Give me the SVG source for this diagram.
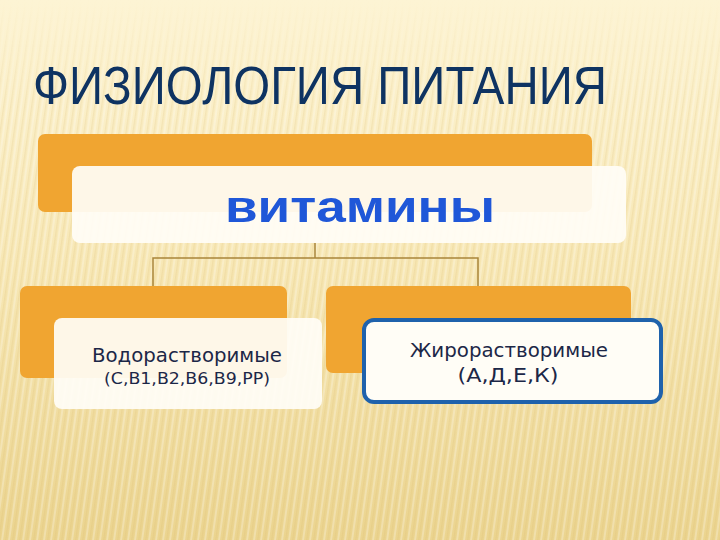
<svg xmlns="http://www.w3.org/2000/svg" width="720" height="540" viewBox="0 0 720 540">
  <defs>
    <linearGradient id="bg" x1="0" y1="0" x2="0" y2="1">
      <stop offset="0" stop-color="#fdf4d4"/>
      <stop offset="0.5" stop-color="#f7e7b4"/>
      <stop offset="1" stop-color="#ebd48f"/>
    </linearGradient>
    <pattern id="stripes" width="7" height="540" patternUnits="userSpaceOnUse" patternTransform="skewX(-8)">
      <rect x="0" y="0" width="2" height="540" fill="#ffffff" opacity="0.25"/>
      <rect x="4" y="0" width="1.5" height="540" fill="#d9b96a" opacity="0.18"/>
    </pattern>
    <linearGradient id="stripeFade" x1="0" y1="0" x2="0" y2="1">
      <stop offset="0" stop-color="#fff" stop-opacity="0"/>
      <stop offset="0.2" stop-color="#fff" stop-opacity="1"/>
      <stop offset="1" stop-color="#fff" stop-opacity="1"/>
    </linearGradient>
    <mask id="fadeMask">
      <rect width="720" height="540" fill="url(#stripeFade)"/>
    </mask>
    <style>
      .orange { fill: #f0a531; }
      .card { fill: #fffdf6; fill-opacity: 0.93; }
      .conn { fill: none; stroke: #a9853a; stroke-width: 1.5; }
      .label { font-family: "DejaVu Sans", "Liberation Sans", sans-serif; fill: #1c2747; text-anchor: middle; }
    </style>
  </defs>

  <rect width="720" height="540" fill="url(#bg)"/>
  <rect width="720" height="540" fill="url(#stripes)" mask="url(#fadeMask)"/>

  <text x="33" y="104" font-family="'Liberation Sans Narrow', 'Liberation Sans', Arial, sans-serif" font-size="53" fill="#0e3362" textLength="574" lengthAdjust="spacingAndGlyphs">ФИЗИОЛОГИЯ ПИТАНИЯ</text>

  <g id="connectors">
    <path class="conn" d="M315 243 V258 M153 286 V258 H478 V286"/>
  </g>

  <g id="node-vitamins">
    <rect class="orange" x="38" y="134" width="554" height="78" rx="7"/>
    <rect class="card" x="72" y="166" width="554" height="77" rx="8"/>
    <text x="360" y="222" font-family="'Liberation Sans', Arial, sans-serif" font-weight="bold" font-size="44" fill="#1f57d8" text-anchor="middle" textLength="270" lengthAdjust="spacingAndGlyphs">витамины</text>
  </g>

  <g id="node-water">
    <rect class="orange" x="20" y="286" width="267" height="92" rx="7"/>
    <rect class="card" x="54" y="318" width="268" height="91" rx="8"/>
    <text class="label" x="187" y="362" font-size="19" textLength="190" lengthAdjust="spacingAndGlyphs">Водорастворимые</text>
    <text class="label" x="187" y="384" font-size="16" textLength="166" lengthAdjust="spacingAndGlyphs">(С,В1,В2,В6,В9,РР)</text>
  </g>

  <g id="node-fat">
    <rect class="orange" x="326" y="286" width="305" height="87" rx="7"/>
    <rect x="364" y="320" width="297" height="82" rx="10" fill="#fffdf6" stroke="#1f62ac" stroke-width="4"/>
    <text class="label" x="509" y="357" font-size="19" textLength="198" lengthAdjust="spacingAndGlyphs">Жирорастворимые</text>
    <text class="label" x="508" y="382" font-size="19" textLength="101" lengthAdjust="spacingAndGlyphs">(А,Д,Е,К)</text>
  </g>
</svg>
